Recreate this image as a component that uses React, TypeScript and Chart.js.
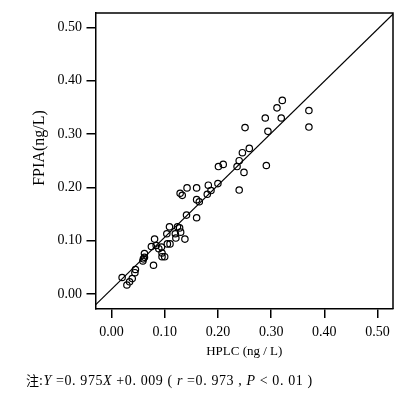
import React, { useEffect, useRef } from "react";
import { Chart, registerables } from "chart.js";

Chart.register(...registerables);

const hplc = [
  0.02, 0.029, 0.034, 0.039, 0.044, 0.045, 0.059, 0.06, 0.062, 0.062,
  0.079, 0.075, 0.081, 0.084, 0.089, 0.094, 0.095, 0.095, 0.1, 0.104,
  0.105, 0.11, 0.109, 0.12, 0.121, 0.124, 0.128, 0.13, 0.138, 0.129,
  0.133, 0.142, 0.141, 0.16, 0.16, 0.165, 0.16, 0.18, 0.182, 0.187,
  0.2, 0.201, 0.21, 0.236, 0.24, 0.24, 0.249, 0.246, 0.259, 0.251,
  0.289, 0.294, 0.291, 0.311, 0.321, 0.319, 0.371, 0.371,
];
const fpia = [
  0.031, 0.017, 0.023, 0.029, 0.04, 0.046, 0.062, 0.066, 0.076, 0.069,
  0.054, 0.089, 0.103, 0.091, 0.085, 0.088, 0.077, 0.07, 0.07, 0.113,
  0.094, 0.094, 0.126, 0.113, 0.105, 0.126, 0.124, 0.116, 0.103, 0.189,
  0.185, 0.199, 0.148, 0.199, 0.177, 0.173, 0.143, 0.187, 0.204, 0.194,
  0.207, 0.239, 0.243, 0.239, 0.25, 0.195, 0.228, 0.265, 0.273, 0.312,
  0.33, 0.305, 0.241, 0.349, 0.363, 0.33, 0.344, 0.313,
];

// regression line endpoints (Y = 0.975X + 0.009)
const regX = [-0.03, 0.53];
const regY = [-0.0203, 0.5258];

const xTicks = [0, 0.1, 0.2, 0.3, 0.4, 0.5];
const xTickLabels = ["0.00", "0.10", "0.20", "0.30", "0.40", "0.50"];
const yTicks = [0, 0.1, 0.2, 0.3, 0.4, 0.5];
const yTickLabels = ["0.00", "0.10", "0.20", "0.30", "0.40", "0.50"];

const xTitle = "HPLC (ng / L)";
const yTitle = "FPIA(ng/L)";

const SERIF = "'Liberation Serif', 'Times New Roman', serif";

export default function App() {
  const ref = useRef<HTMLCanvasElement | null>(null);

  useEffect(() => {
    if (!ref.current) return;

    const framePlugin = {
      id: "frame",
      afterDraw(chart: any) {
        const { ctx, chartArea } = chart;
        ctx.save();
        ctx.strokeStyle = "#000";
        ctx.lineWidth = 1.5;
        ctx.beginPath();
        ctx.moveTo(chartArea.left, chartArea.top);
        ctx.lineTo(chartArea.right, chartArea.top);
        ctx.lineTo(chartArea.right, chartArea.bottom);
        ctx.stroke();
        // y title
        ctx.translate(40, 148);
        ctx.rotate(-Math.PI / 2);
        ctx.fillStyle = "#000";
        ctx.font = `16px ${SERIF}`;
        ctx.textAlign = "center";
        ctx.textBaseline = "middle";
        ctx.fillText(yTitle, 0, 0);
        ctx.restore();
      },
    };

    const chart = new Chart(ref.current, {
      type: "scatter",
      data: {
        datasets: [
          {
            data: hplc.map((x, i) => ({ x, y: fpia[i] })),
            pointStyle: "circle",
            pointRadius: 3.2,
            pointBorderWidth: 1.2,
            pointBorderColor: "#000",
            pointBackgroundColor: "rgba(0,0,0,0)",
            showLine: false,
          },
          {
            type: "line",
            data: regX.map((x, i) => ({ x, y: regY[i] })),
            borderColor: "#000",
            borderWidth: 1.2,
            pointRadius: 0,
            fill: false,
          } as any,
        ],
      },
      options: {
        responsive: false,
        animation: false,
        layout: { padding: { left: 0, top: 9, right: 14, bottom: 33 } },
        plugins: {
          legend: { display: false },
          tooltip: { enabled: false },
        },
        scales: {
          x: {
            type: "linear",
            min: -0.03,
            max: 0.529,
            afterFit: (s: any) => {
              s.height = 55;
            },
            afterBuildTicks: (s: any) => {
              s.ticks = xTicks.map((v) => ({ value: v }));
            },
            ticks: {
              color: "#000",
              font: { family: SERIF, size: 14, lineHeight: 1.2 },
              padding: 5.5,
              maxRotation: 0,
              autoSkip: false,
              callback: (v: any) => {
                const i = xTicks.indexOf(Number(v));
                return i >= 0 ? xTickLabels[i] : "";
              },
            },
            grid: {
              display: true,
              drawOnChartArea: false,
              drawTicks: true,
              tickLength: 9,
              color: "#000",
              lineWidth: 1.5,
            },
            border: { display: true, color: "#000", width: 1.5 },
            title: {
              display: true,
              text: xTitle,
              color: "#000",
              font: { family: SERIF, size: 13, lineHeight: 1.2 },
              padding: { top: 0, bottom: 5 },
            },
          },
          y: {
            type: "linear",
            min: -0.028,
            max: 0.527,
            afterFit: (s: any) => {
              s.width = 95.5;
            },
            afterBuildTicks: (s: any) => {
              s.ticks = yTicks.map((v) => ({ value: v }));
            },
            ticks: {
              color: "#000",
              font: { family: SERIF, size: 14, lineHeight: 1.2 },
              padding: 4.5,
              autoSkip: false,
              callback: (v: any) => {
                const i = yTicks.indexOf(Number(v));
                return i >= 0 ? yTickLabels[i] : "";
              },
            },
            grid: {
              display: true,
              drawOnChartArea: false,
              drawTicks: true,
              tickLength: 9,
              color: "#000",
              lineWidth: 1.5,
            },
            border: { display: true, color: "#000", width: 1.5 },
            title: { display: false },
          },
        },
      },
      plugins: [framePlugin],
    } as any);

    return () => chart.destroy();
  }, []);

  return (
    <div
      style={{
        position: "fixed",
        left: 0,
        top: 0,
        width: 407,
        height: 397,
        background: "#fff",
      }}
    >
      <canvas
        ref={ref}
        width={407}
        height={397}
        style={{ width: 407, height: 397, display: "block" }}
      />
      <div
        style={{
          position: "absolute",
          left: 26,
          top: 372,
          fontFamily: "'Liberation Serif', 'Noto Sans CJK SC', serif",
          fontSize: 14,
          lineHeight: "16px",
          whiteSpace: "pre",
          letterSpacing: "0.6px",
          color: "#000",
        }}
      >
        <span style={{ fontFamily: "'Noto Sans CJK SC', sans-serif", fontSize: 13, letterSpacing: 0 }}>注</span>
        :<i>Y</i> =0. 975<i>X</i> +0. 009 ( <i>r</i> =0. 973 , <i>P</i> &lt; 0. 01 )
      </div>
    </div>
  );
}
